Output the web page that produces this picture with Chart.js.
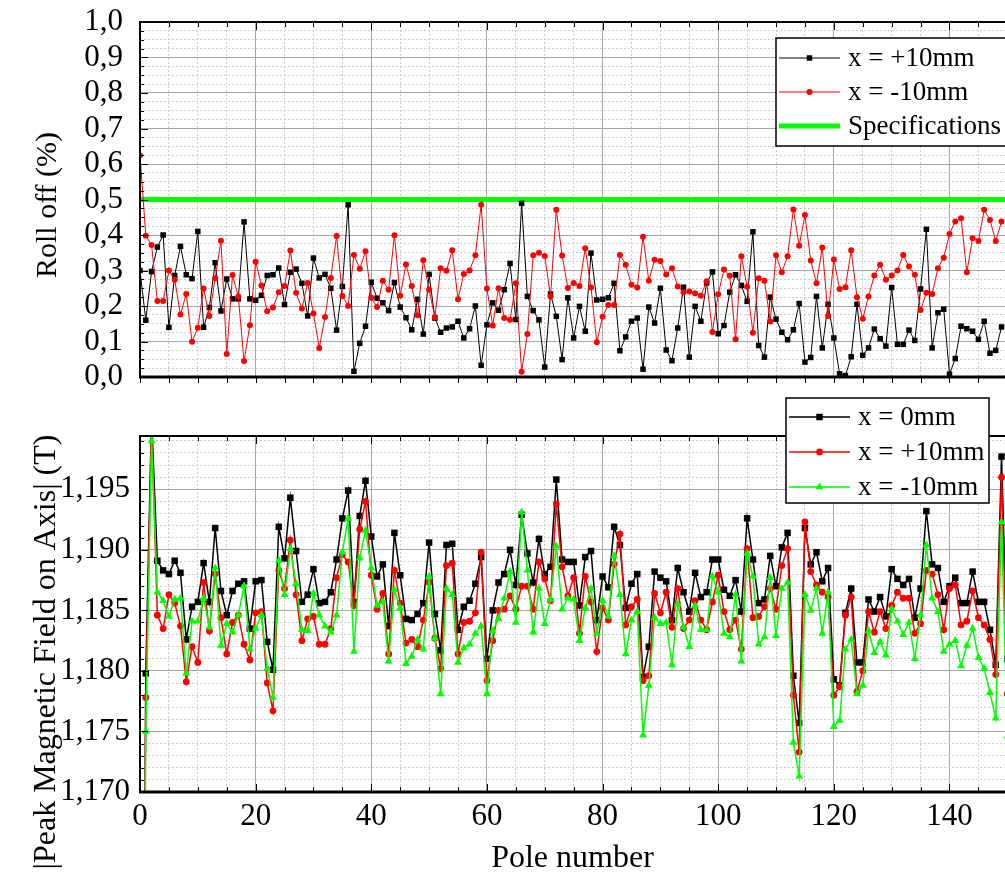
<!DOCTYPE html>
<html><head><meta charset="utf-8">
<script src="https://cdn.jsdelivr.net/npm/chart.js@4.4.1/dist/chart.umd.min.js"></script>
<style>
html,body{margin:0;padding:0;background:#fff;}
#wrap{position:relative;width:1005px;height:878px;overflow:hidden;background:#fff;}
canvas{position:absolute;left:0;}
#top{top:0;} #bot{top:390px;}
</style></head><body>
<div id="wrap"><canvas id="top" width="1005" height="390"></canvas><canvas id="bot" width="1005" height="488"></canvas></div>
<script>
// ---------- data ----------
const poles = Array.from({length: 151}, (_, i) => i);
const specPoles = [0, 150];
const specLimit = [0.5, 0.5];

const rollPlus10 = [0.300,0.160,0.297,0.366,0.400,0.140,0.286,0.368,0.288,0.277,
 0.410,0.140,0.196,0.322,0.186,0.276,0.220,0.220,0.437,0.220,
 0.216,0.230,0.286,0.288,0.307,0.204,0.295,0.304,0.264,0.172,
 0.335,0.279,0.289,0.250,0.132,0.255,0.485,0.016,0.095,0.143,
 0.267,0.222,0.209,0.187,0.266,0.197,0.167,0.133,0.219,0.121,
 0.289,0.166,0.126,0.138,0.141,0.157,0.110,0.136,0.200,0.033,
 0.147,0.209,0.188,0.246,0.320,0.162,0.489,0.227,0.187,0.161,
 0.028,0.234,0.171,0.049,0.223,0.110,0.199,0.129,0.349,0.217,
 0.219,0.223,0.264,0.074,0.113,0.157,0.166,0.022,0.197,0.152,
 0.250,0.076,0.046,0.138,0.253,0.056,0.199,0.157,0.265,0.296,
 0.122,0.145,0.239,0.288,0.258,0.213,0.409,0.089,0.056,0.225,
 0.163,0.126,0.105,0.133,0.207,0.042,0.055,0.227,0.082,0.205,
 0.110,0.009,0.004,0.057,0.205,0.061,0.082,0.135,0.108,0.087,
 0.252,0.092,0.092,0.132,0.103,0.248,0.416,0.082,0.181,0.191,
 0.008,0.052,0.143,0.136,0.129,0.106,0.157,0.067,0.075,0.141];

const rollMinus10 = [0.625,0.398,0.372,0.214,0.214,0.300,0.274,0.176,0.234,0.099,
 0.139,0.249,0.172,0.278,0.384,0.065,0.287,0.227,0.045,0.146,
 0.325,0.258,0.185,0.196,0.239,0.256,0.356,0.237,0.193,0.265,
 0.179,0.082,0.169,0.279,0.397,0.228,0.200,0.344,0.305,0.354,
 0.223,0.197,0.271,0.246,0.399,0.229,0.317,0.256,0.174,0.329,
 0.246,0.168,0.306,0.299,0.357,0.219,0.290,0.300,0.343,0.485,
 0.249,0.145,0.250,0.166,0.161,0.264,0.015,0.121,0.343,0.350,
 0.341,0.227,0.471,0.342,0.251,0.265,0.256,0.363,0.252,0.098,
 0.170,0.203,0.203,0.344,0.316,0.260,0.252,0.395,0.271,0.330,
 0.327,0.289,0.306,0.255,0.239,0.241,0.236,0.229,0.270,0.127,
 0.233,0.303,0.285,0.106,0.340,0.254,0.125,0.278,0.271,0.156,
 0.343,0.295,0.340,0.472,0.370,0.456,0.328,0.264,0.365,0.172,
 0.331,0.248,0.253,0.357,0.225,0.164,0.227,0.286,0.316,0.274,
 0.286,0.300,0.344,0.311,0.288,0.189,0.237,0.234,0.306,0.336,
 0.403,0.438,0.447,0.295,0.391,0.383,0.471,0.442,0.383,0.438];

const field0 = [1.1000,1.1798,1.2010,1.1891,1.1883,1.1880,1.1891,1.1881,1.1826,1.1853,
 1.1857,1.1889,1.1857,1.1918,1.1866,1.1846,1.1866,1.1872,1.1874,1.1835,
 1.1874,1.1875,1.1824,1.1801,1.1919,1.1893,1.1943,1.1899,1.1857,1.1863,
 1.1884,1.1856,1.1857,1.1865,1.1892,1.1926,1.1949,1.1857,1.1928,1.1957,
 1.1911,1.1878,1.1888,1.1837,1.1914,1.1879,1.1843,1.1842,1.1847,1.1856,
 1.1906,1.1847,1.1817,1.1904,1.1905,1.1834,1.1853,1.1858,1.1872,1.1894,
 1.1810,1.1850,1.1873,1.1880,1.1900,1.1871,1.1929,1.1897,1.1873,1.1909,
 1.1880,1.1886,1.1958,1.1892,1.1890,1.1890,1.1854,1.1894,1.1899,1.1842,
 1.1878,1.1869,1.1919,1.1904,1.1852,1.1872,1.1880,1.1795,1.1820,1.1882,
 1.1877,1.1874,1.1842,1.1885,1.1865,1.1849,1.1881,1.1861,1.1865,1.1892,
 1.1892,1.1867,1.1862,1.1875,1.1849,1.1926,1.1892,1.1856,1.1859,1.1895,
 1.1870,1.1902,1.1914,1.1796,1.1757,1.1918,1.1888,1.1898,1.1874,1.1885,
 1.1793,1.1788,1.1848,1.1868,1.1807,1.1807,1.1859,1.1849,1.1861,1.1845,
 1.1884,1.1876,1.1871,1.1876,1.1844,1.1868,1.1932,1.1888,1.1885,1.1857,
 1.1870,1.1877,1.1856,1.1856,1.1882,1.1857,1.1857,1.1834,1.1805,1.1977,
 1.1810];

const fieldPlus10 = [1.1000,1.1778,1.2005,1.1846,1.1835,1.1863,1.1856,1.1837,1.1791,1.1820,
 1.1807,1.1873,1.1833,1.1880,1.1844,1.1814,1.1840,1.1846,1.1822,1.1809,
 1.1848,1.1849,1.1790,1.1767,1.1883,1.1868,1.1908,1.1863,1.1825,1.1843,
 1.1845,1.1822,1.1822,1.1835,1.1877,1.1896,1.1890,1.1854,1.1917,1.1940,
 1.1879,1.1851,1.1864,1.1814,1.1883,1.1856,1.1823,1.1826,1.1820,1.1842,
 1.1873,1.1827,1.1802,1.1887,1.1889,1.1814,1.1840,1.1841,1.1848,1.1898,
 1.1792,1.1825,1.1850,1.1851,1.1862,1.1851,1.1870,1.1870,1.1851,1.1890,
 1.1876,1.1858,1.1938,1.1886,1.1862,1.1877,1.1831,1.1878,1.1857,1.1816,
 1.1852,1.1842,1.1888,1.1913,1.1838,1.1853,1.1859,1.1792,1.1796,1.1864,
 1.1848,1.1865,1.1836,1.1868,1.1835,1.1842,1.1858,1.1842,1.1834,1.1857,
 1.1879,1.1849,1.1834,1.1842,1.1818,1.1901,1.1844,1.1845,1.1853,1.1868,
 1.1851,1.1887,1.1901,1.1780,1.1733,1.1923,1.1882,1.1871,1.1865,1.1861,
 1.1780,1.1787,1.1846,1.1861,1.1783,1.1800,1.1849,1.1832,1.1849,1.1835,
 1.1854,1.1865,1.1860,1.1860,1.1831,1.1839,1.1883,1.1880,1.1863,1.1834,
 1.1868,1.1871,1.1838,1.1841,1.1866,1.1844,1.1838,1.1826,1.1797,1.1960,
 1.1781];

const fieldMinus10 = [1.1000,1.1750,1.1990,1.1865,1.1858,1.1845,1.1859,1.1860,1.1798,1.1841,
 1.1841,1.1860,1.1836,1.1885,1.1821,1.1839,1.1832,1.1846,1.1870,1.1818,
 1.1835,1.1846,1.1802,1.1778,1.1891,1.1863,1.1901,1.1872,1.1834,1.1833,
 1.1864,1.1846,1.1837,1.1832,1.1846,1.1898,1.1926,1.1816,1.1893,1.1916,
 1.1885,1.1854,1.1857,1.1808,1.1867,1.1852,1.1806,1.1812,1.1826,1.1818,
 1.1878,1.1827,1.1781,1.1868,1.1863,1.1807,1.1819,1.1822,1.1831,1.1837,
 1.1781,1.1833,1.1843,1.1860,1.1882,1.1840,1.1931,1.1883,1.1832,1.1868,
 1.1839,1.1859,1.1903,1.1851,1.1860,1.1859,1.1825,1.1852,1.1868,1.1831,
 1.1858,1.1845,1.1895,1.1863,1.1814,1.1842,1.1849,1.1747,1.1788,1.1844,
 1.1839,1.1840,1.1805,1.1855,1.1836,1.1820,1.1854,1.1834,1.1834,1.1878,
 1.1865,1.1831,1.1828,1.1863,1.1808,1.1897,1.1878,1.1822,1.1828,1.1877,
 1.1829,1.1868,1.1873,1.1741,1.1713,1.1863,1.1850,1.1868,1.1831,1.1865,
 1.1754,1.1759,1.1818,1.1826,1.1781,1.1788,1.1833,1.1815,1.1824,1.1813,
 1.1851,1.1841,1.1830,1.1840,1.1810,1.1846,1.1904,1.1860,1.1849,1.1816,
 1.1822,1.1825,1.1804,1.1821,1.1835,1.1811,1.1802,1.1782,1.1761,1.1923,
 1.1746];

// ---------- helpers ----------
const FONT = "'Liberation Serif', 'Times New Roman', serif";
Chart.defaults.font.family = FONT;
Chart.defaults.color = '#000';
const pts = (vals, xs) => vals.map((v, i) => ({x: xs[i], y: v}));
const isMult = (v, step) => { const r = v / step; return Math.abs(r - Math.round(r)) < 1e-6; };
const comma = (v, d) => v.toFixed(d).replace('.', ',');
const MAJOR_GRID = '#a6a6a6', MINOR_GRID = '#cccccc';

function xAxis(showLabels) {
  return {
    type: 'linear', min: 0, max: 149.6,
    afterFit: s => { s.height = showLabels ? 86 : 13; s.paddingLeft = 0; s.paddingRight = 0; },
    ticks: { stepSize: 5, autoSkip: false, includeBounds: false, maxRotation: 0,
      display: showLabels, padding: 6, font: {size: 31},
      callback: v => isMult(v, 20) ? String(v) : '' },
    grid: { drawTicks: false, lineWidth: 1,
      color: c => (c.tick && isMult(c.tick.value, 20)) ? MAJOR_GRID : MINOR_GRID },
    border: { display: false, dash: c => (c.tick && !isMult(c.tick.value, 20)) ? [2, 2] : [] },
    title: showLabels ? { display: true, text: 'Pole number', font: {size: 32}, padding: {top: 0, bottom: 0} } : {display: false}
  };
}
function yAxis(min, max, step, major, dec, pad) {
  return {
    min: min, max: max,
    afterFit: s => { s.width = 140; s.paddingTop = 0; s.paddingBottom = 0; },
    ticks: { stepSize: step, autoSkip: false, includeBounds: false, padding: pad, font: {size: 31},
      callback: v => isMult(v, major) ? comma(v, dec) : '' },
    grid: { drawTicks: false, lineWidth: 1,
      color: c => (c.tick && isMult(c.tick.value, major)) ? MAJOR_GRID : MINOR_GRID },
    border: { display: false, dash: c => (c.tick && !isMult(c.tick.value, major)) ? [2, 2] : [] }
  };
}

function marker(ctx, style, x, y, r, color) {
  ctx.fillStyle = color;
  ctx.beginPath();
  if (style === 'rect') { const s = r * Math.SQRT1_2; ctx.rect(x - s, y - s, 2 * s, 2 * s); }
  else if (style === 'circle') { ctx.arc(x, y, r, 0, Math.PI * 2); }
  else if (style === 'triangle') {
    ctx.moveTo(x, y - r); ctx.lineTo(x + r * 0.866, y + r * 0.5); ctx.lineTo(x - r * 0.866, y + r * 0.5); ctx.closePath();
  }
  ctx.fill();
}

const decor = {
  id: 'decor',
  afterDatasetsDraw(chart, args, o) {
    const ctx = chart.ctx, a = chart.chartArea, xs = chart.scales.x, ys = chart.scales.y;
    ctx.save();
    ctx.strokeStyle = '#000'; ctx.lineWidth = 1;
    ctx.beginPath();
    xs.ticks.forEach(t => {
      const px = Math.round(xs.getPixelForValue(t.value)) + 0.5;
      const L = isMult(t.value, o.xMajor) ? 8 : 5;
      ctx.moveTo(px, a.top); ctx.lineTo(px, a.top + L);
      if (o.bottomOut) { ctx.moveTo(px, a.bottom); ctx.lineTo(px, a.bottom + 6); }
      else { ctx.moveTo(px, a.bottom); ctx.lineTo(px, a.bottom - L); }
    });
    ys.ticks.forEach(t => {
      const py = Math.round(ys.getPixelForValue(t.value)) + 0.5;
      const L = isMult(t.value, o.yMajor) ? 8 : 4;
      ctx.moveTo(a.left, py); ctx.lineTo(a.left + L, py);
    });
    ctx.stroke();
    ctx.lineWidth = 2;
    ctx.strokeRect(a.left, a.top, a.right - a.left + 10, a.bottom - a.top);
    ctx.beginPath(); ctx.lineWidth = 3;
    ctx.moveTo(a.left - 1, a.bottom); ctx.lineTo(a.right + 5, a.bottom); ctx.stroke();
    ctx.restore();
  },
  afterDraw(chart, args, o) {
    const ctx = chart.ctx;
    ctx.save();
    const t = o.yTitle;
    ctx.translate(t.x, t.y); ctx.rotate(-Math.PI / 2);
    ctx.font = t.size + 'px ' + FONT; ctx.fillStyle = '#000';
    ctx.textAlign = 'center'; ctx.textBaseline = 'middle';
    ctx.fillText(t.text, 0, 0);
    ctx.restore();
    const L = o.legend;
    ctx.save();
    ctx.fillStyle = '#fff'; ctx.fillRect(L.x, L.y, L.w, L.h);
    ctx.strokeStyle = '#000'; ctx.lineWidth = 1.5; ctx.strokeRect(L.x, L.y, L.w, L.h);
    ctx.font = L.size + 'px ' + FONT; ctx.textAlign = 'left'; ctx.textBaseline = 'middle';
    L.items.forEach((it, i) => {
      const cy = L.y + L.first + i * L.gap;
      ctx.strokeStyle = it.color; ctx.lineWidth = it.lw;
      ctx.beginPath(); ctx.moveTo(L.s0, cy); ctx.lineTo(L.s1, cy); ctx.stroke();
      if (it.style) marker(ctx, it.style, (L.s0 + L.s1) / 2, cy, it.r, it.color);
      ctx.fillStyle = '#000'; ctx.fillText(it.text, L.tx, cy + 1);
    });
    ctx.restore();
  }
};

const common = {
  responsive: false, animation: false, events: [],
  plugins: { legend: {display: false}, tooltip: {enabled: false} }
};

// ---------- top chart ----------
new Chart(document.getElementById('top'), {
  type: 'line',
  data: { datasets: [
    { label: 'Specifications', data: pts(specLimit, specPoles), borderColor: '#00ff00', borderWidth: 5, pointRadius: 0, order: 3 },
    { label: 'x = +10mm', data: pts(rollPlus10, poles), borderColor: '#000', borderWidth: 1,
      pointStyle: 'rect', pointRadius: 3.9, pointBackgroundColor: '#000', pointBorderWidth: 0, order: 2 },
    { label: 'x = -10mm', data: pts(rollMinus10, poles), borderColor: '#ff0000', borderWidth: 1,
      pointStyle: 'circle', pointRadius: 3, pointBackgroundColor: '#ff0000', pointBorderWidth: 0, order: 1 }
  ]},
  options: Object.assign({}, common, {
    layout: { autoPadding: false, padding: {top: 22, right: 0, bottom: 0, left: 0} },
    scales: { x: xAxis(false), y: yAxis(0, 1, 0.025, 0.1, 1, 17) },
    plugins: Object.assign({}, common.plugins, { decor: {
      xMajor: 20, yMajor: 0.1, bottomOut: true,
      yTitle: { text: 'Roll off (%)', x: 48, y: 205, size: 30 },
      legend: { x: 776, y: 38, w: 240, h: 108, first: 20, gap: 34, s0: 779, s1: 840, tx: 848, size: 27,
        items: [
          { text: 'x = +10mm', color: '#000', lw: 1, style: 'rect', r: 3.9 },
          { text: 'x = -10mm', color: '#ff0000', lw: 1, style: 'circle', r: 3 },
          { text: 'Specifications', color: '#00ff00', lw: 5 }
        ] }
    } })
  }),
  plugins: [decor]
});

// ---------- bottom chart ----------
new Chart(document.getElementById('bot'), {
  type: 'line',
  data: { datasets: [
    { label: 'x = 0mm', data: pts(field0, poles), borderColor: '#000', borderWidth: 1.5,
      pointStyle: 'rect', pointRadius: 4.6, pointBackgroundColor: '#000', pointBorderWidth: 0, order: 3 },
    { label: 'x = +10mm', data: pts(fieldPlus10, poles), borderColor: '#ff0000', borderWidth: 1.5,
      pointStyle: 'circle', pointRadius: 3.4, pointBackgroundColor: '#ff0000', pointBorderWidth: 0, order: 2 },
    { label: 'x = -10mm', data: pts(fieldMinus10, poles), borderColor: '#00ff00', borderWidth: 1.5,
      pointStyle: 'triangle', pointRadius: 4.6, pointBackgroundColor: '#00ff00', pointBorderWidth: 0, order: 1 }
  ]},
  options: Object.assign({}, common, {
    layout: { autoPadding: false, padding: {top: 46, right: 0, bottom: 0, left: 0} },
    scales: { x: xAxis(true), y: yAxis(1.170, 1.1994, 0.001, 0.005, 3, 10) },
    plugins: Object.assign({}, common.plugins, { decor: {
      xMajor: 20, yMajor: 0.005, bottomOut: false,
      yTitle: { text: '|Peak Magnetic Field on Axis| (T)', x: 47, y: 262, size: 32 },
      legend: { x: 786, y: 8, w: 203, h: 105, first: 19, gap: 35, s0: 789, s1: 850, tx: 858, size: 27,
        items: [
          { text: 'x = 0mm', color: '#000', lw: 1.5, style: 'rect', r: 4.6 },
          { text: 'x = +10mm', color: '#ff0000', lw: 1.5, style: 'circle', r: 3.4 },
          { text: 'x = -10mm', color: '#00ff00', lw: 1.5, style: 'triangle', r: 4.6 }
        ] }
    } })
  }),
  plugins: [decor]
});
</script>
</body></html>
